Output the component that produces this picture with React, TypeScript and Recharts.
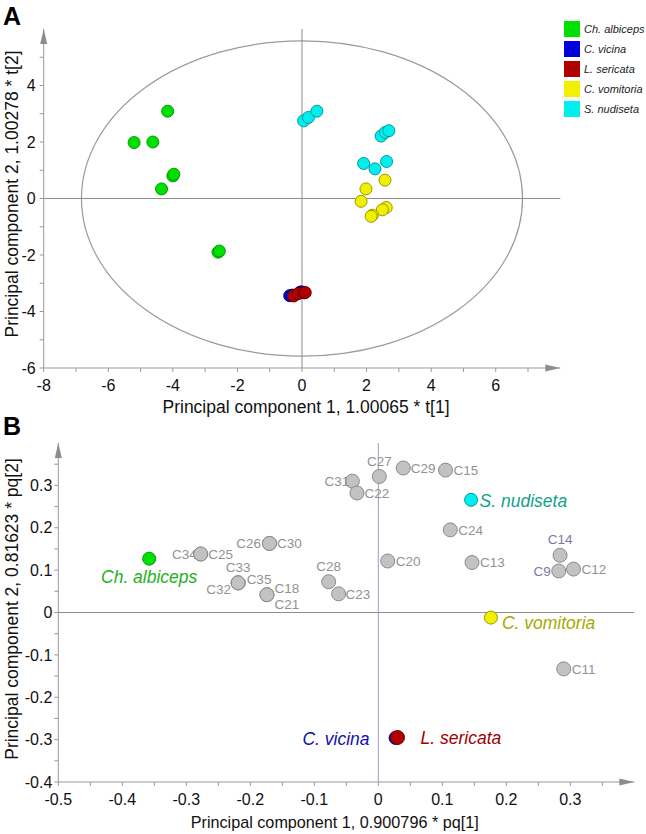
import React from 'react';
import {
  ScatterChart,
  Scatter,
  XAxis,
  YAxis,
  ReferenceLine,
  ReferenceArea,
  ReferenceDot,
  Legend,
} from 'recharts';

const FONT = 'Arial, "Liberation Sans", Helvetica, sans-serif';

// ---------- Panel A: scores ----------
const speciesNames = ['Ch. albiceps', 'C. vicina', 'L. sericata', 'C. vomitoria', 'S. nudiseta'];
const speciesFill = ['#00e000', '#0000dd', '#b00000', '#f0f000', '#00eeee'];
const speciesStroke = ['#009a00', '#00008a', '#6a0000', '#9a9a00', '#009a9a'];
const speciesLabelColor = ['#22b022', '#1010b0', '#a00000', '#a8a800', '#12a08a'];

const albicepsScores = [
  { x: -4.16, y: 3.09 },
  { x: -5.2, y: 1.98 },
  { x: -4.62, y: 2.0 },
  { x: -4.0, y: 0.8 },
  { x: -3.97, y: 0.86 },
  { x: -4.35, y: 0.34 },
  { x: -2.6, y: -1.9 },
  { x: -2.56, y: -1.86 },
];
const vicinaScores = [
  { x: -0.38, y: -3.44 },
  { x: -0.3, y: -3.42 },
  { x: -0.05, y: -3.31 },
  { x: 0.0, y: -3.31 },
];
const sericataScores = [
  { x: -0.26, y: -3.45 },
  { x: -0.12, y: -3.37 },
  { x: 0.07, y: -3.34 },
  { x: 0.1, y: -3.33 },
];
const vomitoriaScores = [
  { x: 2.57, y: 0.65 },
  { x: 1.98, y: 0.34 },
  { x: 1.83, y: -0.1 },
  { x: 2.61, y: -0.32 },
  { x: 2.49, y: -0.4 },
  { x: 2.18, y: -0.59 },
  { x: 2.14, y: -0.63 },
];
const nudisetaScores = [
  { x: 0.05, y: 2.75 },
  { x: 0.2, y: 2.87 },
  { x: 0.46, y: 3.09 },
  { x: 2.45, y: 2.21 },
  { x: 2.58, y: 2.34 },
  { x: 2.69, y: 2.4 },
  { x: 1.91, y: 1.24 },
  { x: 2.26, y: 1.05 },
  { x: 2.62, y: 1.31 },
];
const scoreSeries = [albicepsScores, vicinaScores, sericataScores, vomitoriaScores, nudisetaScores];

const scoreXTicks = [-8, -7, -6, -5, -4, -3, -2, -1, 0, 1, 2, 3, 4, 5, 6, 7];
const scoreYTicks = [-6, -5, -4, -3, -2, -1, 0, 1, 2, 3, 4, 5];
const ellipseRadiusX = 6.83;
const ellipseRadiusY = 5.58;

// ---------- Panel B: loadings ----------
const loadingNames = ['C34', 'C25', 'C26', 'C30', 'C33', 'C35', 'C32', 'C18', 'C21', 'C28', 'C23', 'C31', 'C22', 'C27', 'C29', 'C15', 'C24', 'C20', 'C13', 'C14', 'C9', 'C12', 'C11'];
const loadingX = [-0.2775, -0.2775, -0.17, -0.17, -0.219, -0.219, -0.219, -0.174, -0.174, -0.0775, -0.062, -0.0406, -0.0333, 0.0016, 0.039, 0.105, 0.1125, 0.0147, 0.1464, 0.284, 0.282, 0.305, 0.2897];
const loadingY = [0.138, 0.138, 0.163, 0.163, 0.07, 0.07, 0.07, 0.042, 0.042, 0.0725, 0.044, 0.31, 0.282, 0.321, 0.341, 0.336, 0.195, 0.1215, 0.118, 0.135, 0.098, 0.1025, -0.133];

const speciesLoadX = [-0.358, 0.027, 0.03, 0.176, 0.145];
const speciesLoadY = [0.127, -0.296, -0.295, -0.012, 0.266];

const loadingXTicks = [-0.5, -0.45, -0.4, -0.35, -0.3, -0.25, -0.2, -0.15, -0.1, -0.05, 0, 0.05, 0.1, 0.15, 0.2, 0.25, 0.3, 0.35];
const loadingYTicks = [-0.4, -0.35, -0.3, -0.25, -0.2, -0.15, -0.1, -0.05, 0, 0.05, 0.1, 0.15, 0.2, 0.25, 0.3, 0.35];

// label placement (dx, dy from marker centre, anchor)
const labelPlacement: Record<string, [number, number, 'start' | 'middle' | 'end']> = {
  C34: [-4, 0, 'end'],
  C25: [7.5, 0, 'start'],
  C26: [-8.5, 0, 'end'],
  C30: [7.5, 0, 'start'],
  C33: [0, -15.5, 'middle'],
  C35: [8.5, -3.5, 'start'],
  C32: [-7, 6.5, 'end'],
  C18: [7.5, -6.5, 'start'],
  C21: [7.5, 9, 'start'],
  C28: [0, -16, 'middle'],
  C23: [7, 0, 'start'],
  C31: [-3, 0, 'end'],
  C22: [7.5, 0, 'start'],
  C27: [0, -15, 'middle'],
  C29: [7.5, 0, 'start'],
  C15: [8, 0, 'start'],
  C24: [8, 0, 'start'],
  C20: [8, 0, 'start'],
  C13: [8, 0, 'start'],
  C14: [0, -16, 'middle'],
  C9: [-8, 0, 'end'],
  C12: [8, 0, 'start'],
  C11: [8, 0, 'start'],
  'Ch. albiceps': [0, 18, 'middle'],
  'C. vicina': [-26, 1, 'end'],
  'L. sericata': [23, 0, 'start'],
  'C. vomitoria': [11, 4.7, 'start'],
  'S. nudiseta': [8.5, 0.5, 'start'],
};
const blueGreyLabels = ['C14', 'C9'];

const scoreFormatter = (v: number) => (v % 2 === 0 ? String(v) : '');
const loadingFormatter = (v: number) => {
  const k = Math.round(v * 100);
  if (k % 10 !== 0) return '';
  return k === 0 ? '0' : (k / 100).toFixed(1);
};

const arrowRight = (p: any) => (
  <polygon points={`${p.cx},${p.cy} ${p.cx - 15},${p.cy - 3.5} ${p.cx - 15},${p.cy + 3.5}`} fill="#8c8c8c" />
);
const arrowUp = (p: any) => (
  <polygon points={`${p.cx},${p.cy} ${p.cx - 3.5},${p.cy + 15} ${p.cx + 3.5},${p.cy + 15}`} fill="#8c8c8c" />
);

const ellipseShape = (p: any) => (
  <ellipse
    cx={p.x + p.width / 2}
    cy={p.y + p.height / 2}
    rx={Math.abs(p.width / 2)}
    ry={Math.abs(p.height / 2)}
    fill="none"
    stroke="#9a9a9a"
    strokeWidth={1.2}
  />
);

const LegendBox = () => (
  <div style={{ fontFamily: FONT }}>
    {speciesNames.map((name, i) => (
      <div key={name} style={{ display: 'flex', alignItems: 'center', height: 20 }}>
        <span style={{ display: 'inline-block', width: 16, height: 16, background: speciesFill[i] }} />
        <span style={{ marginLeft: 4, fontSize: 11, fontStyle: 'italic', color: '#222', whiteSpace: 'nowrap' }}>
          {name}
        </span>
      </div>
    ))}
  </div>
);

const axisStroke = '#999';

export default function App() {
  return (
    <div style={{ position: 'absolute', left: 0, top: 0, width: 646, height: 834, background: '#fff', fontFamily: FONT }}>
      <div style={{ position: 'absolute', left: 0, top: 0 }}>
        <ScatterChart width={646} height={420} margin={{ top: 29, right: 85.7, bottom: 22, left: 3.7 }}>
          <XAxis
            type="number"
            dataKey="x"
            domain={[-8, 8]}
            ticks={scoreXTicks}
            interval={0}
            tickFormatter={scoreFormatter}
            height={30}
            tickSize={4}
            tickMargin={8}
            axisLine={{ stroke: axisStroke }}
            tickLine={{ stroke: axisStroke }}
            tick={{ fontSize: 16, fill: '#111', fontFamily: FONT }}
            allowDataOverflow
            label={(p: any) => (
              <text x={306} y={413} textAnchor="middle" fontSize={17.5} fill="#111" fontFamily={FONT}>
                Principal component 1, 1.00065 * t[1]
              </text>
            )}
          />
          <YAxis
            type="number"
            dataKey="y"
            domain={[-6, 6]}
            ticks={scoreYTicks}
            interval={0}
            tickFormatter={scoreFormatter}
            width={40}
            tickSize={4}
            tickMargin={4}
            axisLine={{ stroke: axisStroke }}
            tickLine={{ stroke: axisStroke }}
            tick={{ fontSize: 16, fill: '#111', fontFamily: FONT }}
            allowDataOverflow
            label={(p: any) => (
              <text transform="translate(17.5,194) rotate(-90)" x={0} y={0} textAnchor="middle" fontSize={17.5} fill="#111" fontFamily={FONT}>
                Principal component 2, 1.00278 * t[2]
              </text>
            )}
          />
          <ReferenceLine x={0} stroke="#8c8c8c" />
          <ReferenceLine y={0} stroke="#8c8c8c" />
          <ReferenceArea
            x1={-ellipseRadiusX}
            x2={ellipseRadiusX}
            y1={-ellipseRadiusY}
            y2={ellipseRadiusY}
            shape={ellipseShape}
          />
          <ReferenceDot x={8} y={-6} ifOverflow="visible" shape={arrowRight} />
          <ReferenceDot x={-8} y={6} ifOverflow="visible" shape={arrowUp} />
          {scoreSeries.map((data, i) => (
            <Scatter
              key={speciesNames[i]}
              name={speciesNames[i]}
              data={data}
              fill={speciesFill[i]}
              isAnimationActive={false}
              shape={(p: any) => (
                <circle cx={p.cx} cy={p.cy} r={6} fill={speciesFill[i]} stroke={speciesStroke[i]} strokeWidth={1} />
              )}
            />
          ))}
          <Legend
            layout="horizontal"
            verticalAlign="middle"
            align="center"
            content={LegendBox}
            wrapperStyle={{ left: 564, top: 18.7, width: 82 }}
          />
        </ScatterChart>
      </div>

      <div style={{ position: 'absolute', left: 0, top: 420 }}>
        <ScatterChart width={646} height={414} margin={{ top: 23, right: 11.7, bottom: 22, left: 8.3 }}>
          <XAxis
            type="number"
            dataKey="x"
            domain={[-0.5, 0.4]}
            ticks={loadingXTicks}
            interval={0}
            tickFormatter={loadingFormatter}
            height={30}
            tickSize={4}
            tickMargin={8}
            axisLine={{ stroke: axisStroke }}
            tickLine={{ stroke: axisStroke }}
            tick={{ fontSize: 16, fill: '#111', fontFamily: FONT }}
            allowDataOverflow
            label={(p: any) => (
              <text x={334.7} y={407.7} textAnchor="middle" fontSize={16.2} fill="#111" fontFamily={FONT}>
                Principal component 1, 0.900796 * pq[1]
              </text>
            )}
          />
          <YAxis
            type="number"
            dataKey="y"
            domain={[-0.4, 0.4]}
            ticks={loadingYTicks}
            interval={0}
            tickFormatter={loadingFormatter}
            width={50}
            tickSize={4}
            tickMargin={2}
            axisLine={{ stroke: axisStroke }}
            tickLine={{ stroke: axisStroke }}
            tick={{ fontSize: 16, fill: '#111', fontFamily: FONT }}
            allowDataOverflow
            label={(p: any) => (
              <text transform="translate(18.3,189) rotate(-90)" x={0} y={0} textAnchor="middle" fontSize={17.5} fill="#111" fontFamily={FONT}>
                Principal component 2, 0.81623 * pq[2]
              </text>
            )}
          />
          <ReferenceLine x={0} stroke="#9a9ac6" />
          <ReferenceLine y={0} stroke="#8c8c8c" />
          <ReferenceDot x={0.4} y={-0.4} ifOverflow="visible" shape={arrowRight} />
          <ReferenceDot x={-0.5} y={0.4} ifOverflow="visible" shape={arrowUp} />
          <Scatter
            name="variables"
            data={loadingNames.map((n, i) => ({ x: loadingX[i], y: loadingY[i], name: n }))}
            fill="#c0c0c0"
            isAnimationActive={false}
            shape={(p: any) => {
              const name = p.payload.name;
              const [dx, dy, anchor] = labelPlacement[name];
              return (
                <g>
                  <circle cx={p.cx} cy={p.cy} r={7} fill="#c2c2c2" stroke="#8a8a8a" strokeWidth={1} />
                  <text
                    x={p.cx + dx}
                    y={p.cy + dy}
                    dy="0.36em"
                    textAnchor={anchor}
                    fontSize={13.5}
                    fontFamily={FONT}
                    fill={blueGreyLabels.includes(name) ? '#7a7aa6' : '#929292'}
                  >
                    {name}
                  </text>
                </g>
              );
            }}
          />
          {speciesNames.map((name, i) => (
            <Scatter
              key={name}
              name={name}
              data={[{ x: speciesLoadX[i], y: speciesLoadY[i], name }]}
              fill={speciesFill[i]}
              isAnimationActive={false}
              shape={(p: any) => {
                const [dx, dy, anchor] = labelPlacement[name];
                return (
                  <g>
                    <circle cx={p.cx} cy={p.cy} r={i === 2 ? 7 : 6.5} fill={speciesFill[i]} stroke={speciesStroke[i]} strokeWidth={1} />
                    <text
                      x={p.cx + dx}
                      y={p.cy + dy}
                      dy="0.36em"
                      textAnchor={anchor}
                      fontSize={17.5}
                      fontStyle="italic"
                      fontFamily={FONT}
                      fill={speciesLabelColor[i]}
                    >
                      {name}
                    </text>
                  </g>
                );
              }}
            />
          ))}
        </ScatterChart>
      </div>

      <div style={{ position: 'absolute', left: 3, top: 4.3, fontSize: 25, fontWeight: 'bold', lineHeight: '25px', color: '#000' }}>A</div>
      <div style={{ position: 'absolute', left: 3, top: 414.3, fontSize: 25, fontWeight: 'bold', lineHeight: '25px', color: '#000' }}>B</div>
    </div>
  );
}
